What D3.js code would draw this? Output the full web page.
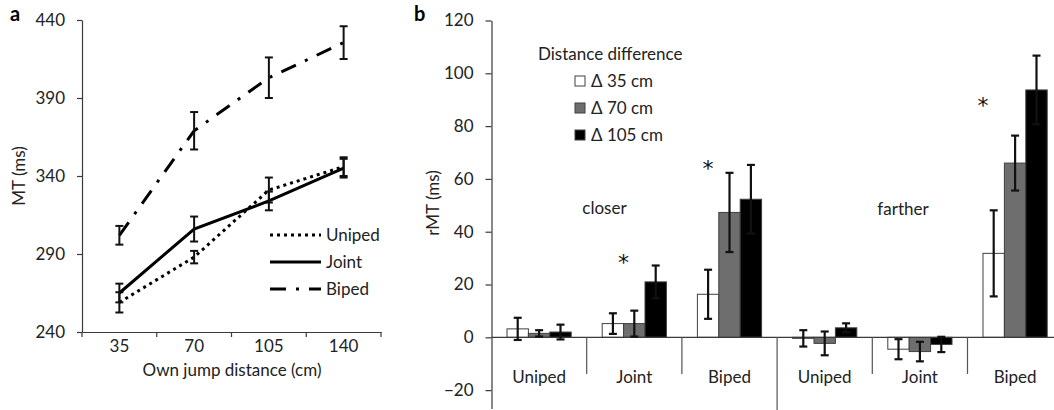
<!DOCTYPE html>
<html>
<head>
<meta charset="utf-8">
<script src="https://cdn.jsdelivr.net/npm/d3@7"></script>
<style>
body { margin: 0; background: #fff; }
svg { display: block; font-family: Lato, "Open Sans", sans-serif; }
</style>
</head>
<body>
<script>
// panel a: movement time per own jump distance
var distances = ["35", "70", "105", "140"];
var unipedMT = [259, 288, 331, 346];
var unipedErr = [6.5, 4, 8, 6];
var jointMT = [265, 306, 324, 345];
var jointErr = [6, 8, 6, 6];
var bipedMT = [302, 369, 403, 425.5];
var bipedErr = [6, 12, 13, 10.5];
var mtTicks = [240, 290, 340, 390, 440];

// panel b: relative MT per condition and distance difference
var conditions = ["Uniped", "Joint", "Biped", "Uniped", "Joint", "Biped"];
var diffLabels = ["\u0394 35 cm", "\u0394 70 cm", "\u0394 105 cm"];
var rmt35 = [3.2, 5.2, 16.3, -0.4, -4.5, 31.8];
var rmt35Err = [4.2, 3.9, 9.3, 3.1, 3.8, 16.3];
var rmt70 = [1.5, 5.2, 47.3, -2.3, -5.4, 66.0];
var rmt70Err = [1.2, 4.9, 15.0, 4.5, 3.7, 10.4];
var rmt105 = [2.0, 21.0, 52.3, 3.6, -2.7, 93.7];
var rmt105Err = [2.8, 6.2, 13.0, 1.7, 2.9, 13.0];
var rmtTicks = [-20, 0, 20, 40, 60, 80, 100, 120];
// significance stars: group, bar, where in the bar (0 left .. 1 right), height (ms)
var starGroup = [1, 2, 5];
var starBar = [1, 0, 0];
var starPos = [0, 0.5, 0];
var starY = [30.4, 66, 90];

var width = 1054, height = 410;
var ink = "#3a3a3a", txt = "#222";

var svg = d3.select("body").append("svg")
    .attr("width", width)
    .attr("height", height);

function styleAxis(g) {
    g.attr("font-size", 17).attr("font-family", null);
    g.selectAll("path, line").attr("stroke", ink).attr("stroke-width", 1.2);
    g.selectAll("text").attr("fill", txt);
}

// ---------- panel a ----------
var xA = d3.scaleBand().domain(distances).range([82, 381]);
var yA = d3.scaleLinear().domain([240, 440]).range([332, 20]);
var cx = function(i) { return xA(distances[i]) + xA.bandwidth() / 2; };

svg.append("g")
    .attr("transform", "translate(82,0)")
    .call(d3.axisLeft(yA).tickValues(mtTicks).tickSize(5).tickSizeOuter(0).tickPadding(12))
    .call(styleAxis);

svg.append("g")
    .attr("transform", "translate(0,332)")
    .call(d3.axisBottom(xA).tickSize(0).tickPadding(8))
    .call(styleAxis);

// ticks sit on the band edges
svg.append("g").selectAll("line")
    .data(distances.concat(["end"]))
    .enter().append("line")
    .attr("x1", function(d) { return d == "end" ? xA.range()[1] : xA(d); })
    .attr("x2", function(d) { return d == "end" ? xA.range()[1] : xA(d); })
    .attr("y1", 332).attr("y2", 337)
    .attr("stroke", ink).attr("stroke-width", 1.2);

svg.append("text")
    .attr("x", 232).attr("y", 376)
    .attr("text-anchor", "middle")
    .attr("font-size", 17).attr("fill", txt)
    .text("Own jump distance (cm)");

svg.append("text")
    .attr("transform", "translate(25,176) rotate(-90)")
    .attr("text-anchor", "middle")
    .attr("font-size", 17).attr("fill", txt)
    .text("MT (ms)");

svg.append("text")
    .attr("x", 10).attr("y", 21)
    .attr("font-size", 20).attr("font-weight", "bold")
    .text("a");

var seriesA = [
    {name: "Uniped", vals: unipedMT, err: unipedErr, dash: "3,4"},
    {name: "Joint", vals: jointMT, err: jointErr, dash: null},
    {name: "Biped", vals: bipedMT, err: bipedErr, dash: "16,10,3,10"}
];

var line = d3.line()
    .x(function(d, i) { return cx(i); })
    .y(function(d) { return yA(d); });

seriesA.forEach(function(s) {
    svg.append("path")
        .datum(s.vals)
        .attr("d", line)
        .attr("fill", "none")
        .attr("stroke", "#000")
        .attr("stroke-width", 3)
        .attr("stroke-dasharray", s.dash);

    var eb = svg.append("g").attr("stroke", "#111").attr("stroke-width", 2);
    s.vals.forEach(function(v, i) {
        var x = cx(i), lo = yA(v - s.err[i]), hi = yA(v + s.err[i]);
        eb.append("line").attr("x1", x).attr("x2", x).attr("y1", lo).attr("y2", hi);
        eb.append("line").attr("x1", x - 4).attr("x2", x + 4).attr("y1", lo).attr("y2", lo);
        eb.append("line").attr("x1", x - 4).attr("x2", x + 4).attr("y1", hi).attr("y2", hi);
    });
});

// legend a
seriesA.forEach(function(s, i) {
    var y = 235 + i * 27;
    svg.append("line")
        .attr("x1", 270).attr("x2", 321).attr("y1", y).attr("y2", y)
        .attr("stroke", "#000").attr("stroke-width", 3)
        .attr("stroke-dasharray", s.dash);
    svg.append("text")
        .attr("x", 326).attr("y", y + 6)
        .attr("font-size", 17).attr("fill", txt)
        .text(s.name);
});

// ---------- panel b ----------
var xB = d3.scaleBand().domain(d3.range(6)).range([491.5, 1062.7]);
var xIn = d3.scaleBand().domain([0, 1, 2]).range([0, xB.bandwidth()]).paddingOuter(0.724).paddingInner(0);
var yB = d3.scaleLinear().domain([-27, 120]).range([408.6, 20.5]);
var y0 = yB(0);

var seriesB = [
    {vals: rmt35, err: rmt35Err, fill: "#fff"},
    {vals: rmt70, err: rmt70Err, fill: "#6e6e6e"},
    {vals: rmt105, err: rmt105Err, fill: "#000"}
];

svg.append("g")
    .attr("transform", "translate(491.5,0)")
    .call(d3.axisLeft(yB).tickValues(rmtTicks).tickSize(6).tickSizeOuter(0).tickPadding(12)
        .tickFormat(d3.format("d")))
    .call(styleAxis);

svg.append("text")
    .attr("transform", "translate(439,203) rotate(-90)")
    .attr("text-anchor", "middle")
    .attr("font-size", 17).attr("fill", txt)
    .text("rMT (ms)");

svg.append("text")
    .attr("x", 414).attr("y", 21)
    .attr("font-size", 20).attr("font-weight", "bold")
    .text("b");

// bars
seriesB.forEach(function(s, k) {
    svg.append("g").selectAll("rect")
        .data(s.vals)
        .enter().append("rect")
        .attr("x", function(d, i) { return xB(i) + xIn(k); })
        .attr("width", xIn.bandwidth())
        .attr("y", function(d) { return yB(Math.max(0, d)); })
        .attr("height", function(d) { return Math.abs(yB(d) - y0); })
        .attr("fill", s.fill)
        .attr("stroke", "#404040")
        .attr("stroke-width", 1);
});

// zero line and group separators
svg.append("line")
    .attr("x1", 491.5).attr("x2", width).attr("y1", y0).attr("y2", y0)
    .attr("stroke", ink).attr("stroke-width", 1.2);

svg.append("g").selectAll("line")
    .data(d3.range(1, 6))
    .enter().append("line")
    .attr("x1", function(i) { return xB(i); })
    .attr("x2", function(i) { return xB(i); })
    .attr("y1", y0)
    .attr("y2", function(i) { return i == 3 ? height : 374; })
    .attr("stroke", "#555").attr("stroke-width", 1.2);

// error bars
seriesB.forEach(function(s, k) {
    var eb = svg.append("g").attr("stroke", "#111").attr("stroke-width", 2.2);
    s.vals.forEach(function(v, i) {
        var x = xB(i) + xIn(k) + xIn.bandwidth() / 2;
        var lo = yB(v - s.err[i]), hi = yB(v + s.err[i]);
        eb.append("line").attr("x1", x).attr("x2", x).attr("y1", lo).attr("y2", hi);
        eb.append("line").attr("x1", x - 4).attr("x2", x + 4).attr("y1", lo).attr("y2", lo);
        eb.append("line").attr("x1", x - 4).attr("x2", x + 4).attr("y1", hi).attr("y2", hi);
    });
});

// category labels
svg.append("g").selectAll("text")
    .data(conditions)
    .enter().append("text")
    .attr("x", function(d, i) { return xB(i) + xB.bandwidth() / 2; })
    .attr("y", 383)
    .attr("text-anchor", "middle")
    .attr("font-size", 17).attr("fill", txt)
    .text(function(d) { return d; });

svg.append("text").attr("x", 604.5).attr("y", 214)
    .attr("text-anchor", "middle").attr("font-size", 17).attr("fill", txt)
    .text("closer");
svg.append("text").attr("x", 903).attr("y", 215)
    .attr("text-anchor", "middle").attr("font-size", 17).attr("fill", txt)
    .text("farther");

// stars
starGroup.forEach(function(g, j) {
    svg.append("text")
        .attr("x", xB(g) + xIn(starBar[j]) + starPos[j] * xIn.bandwidth())
        .attr("y", yB(starY[j]) + 13)
        .attr("text-anchor", "middle")
        .attr("font-family", "DejaVu Sans")
        .attr("font-size", 22).attr("fill", "#111")
        .text("*");
});

// legend b
svg.append("text")
    .attr("x", 538).attr("y", 60)
    .attr("font-size", 17).attr("fill", txt)
    .text("Distance difference");

seriesB.forEach(function(s, k) {
    var y = 81 + k * 27;
    svg.append("rect")
        .attr("x", 575).attr("y", y - 5).attr("width", 10).attr("height", 10)
        .attr("fill", s.fill).attr("stroke", "#404040").attr("stroke-width", 1);
    svg.append("text")
        .attr("x", 591).attr("y", y + 6)
        .attr("font-size", 17).attr("fill", txt)
        .text(diffLabels[k]);
});
</script>
</body>
</html>
